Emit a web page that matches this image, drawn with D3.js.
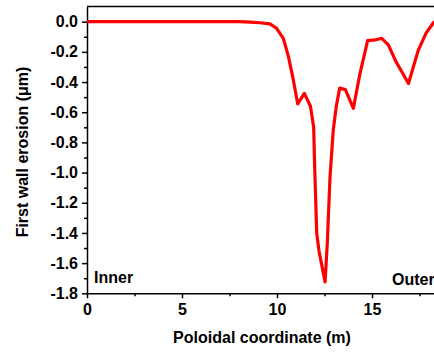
<!DOCTYPE html>
<html>
<head>
<meta charset="utf-8">
<script src="https://cdn.jsdelivr.net/npm/d3@7"></script>
<style>
  html, body { margin: 0; padding: 0; background: #fff; }
  svg { display: block; }
  text { font-family: "Liberation Sans", Arial, sans-serif; font-weight: bold; fill: #000; }
</style>
</head>
<body>
<svg id="chart" width="434" height="352"></svg>
<script>
// Poloidal coordinate along the first wall (m)
const poloidal = [0, 2, 4, 6, 8, 8.6, 9.1, 9.63, 9.98, 10.33, 10.6, 10.86, 11.09, 11.44, 11.76,
  11.93, 11.98, 12.09, 12.21, 12.53, 12.65, 12.79, 12.96, 13.12, 13.3, 13.6, 14.02, 14.37,
  14.77, 15.16, 15.51, 15.86, 16.26, 16.56, 16.92, 17.18, 17.44, 17.84, 18.23, 18.6];
// First wall erosion (µm)
const erosion = [0, 0, 0, 0, 0, -0.003, -0.007, -0.015, -0.044, -0.11, -0.23, -0.386, -0.545, -0.475, -0.56,
  -0.7, -0.95, -1.4, -1.52, -1.725, -1.46, -1.03, -0.72, -0.56, -0.44, -0.45, -0.574, -0.342,
  -0.126, -0.121, -0.11, -0.154, -0.265, -0.33, -0.41, -0.298, -0.188, -0.077, -0.007, 0.03];

const xTicks = [0, 5, 10, 15];
const xMinor = [2.5, 7.5, 12.5, 17.5];
const yTicks = [0.0, -0.2, -0.4, -0.6, -0.8, -1.0, -1.2, -1.4, -1.6, -1.8];
const yMinor = [-0.1, -0.3, -0.5, -0.7, -0.9, -1.1, -1.3, -1.5, -1.7];

(function () {
  const svg = d3.select("#chart");
  const mLeft = 87, mTop = 6.6, mBottom = 293.3;

  const x = d3.scaleLinear().domain([0, 20]).range([mLeft, mLeft + 19 * 20]);
  const y = d3.scaleLinear().domain([-1.8, 0.1]).range([mBottom, mTop]);

  // frame top edge
  svg.append("line")
    .attr("x1", x(0)).attr("x2", x(20)).attr("y1", y(0.1)).attr("y2", y(0.1))
    .attr("stroke", "#000").attr("stroke-width", 1.5);

  // x axis
  svg.append("g").attr("transform", `translate(0,${mBottom})`)
    .call(d3.axisBottom(x).tickValues(xTicks).tickFormat(d3.format("d")).tickSize(5).tickSizeOuter(0).tickPadding(5));
  svg.append("g").attr("transform", `translate(0,${mBottom})`)
    .call(d3.axisBottom(x).tickValues(xMinor).tickFormat("").tickSize(3).tickSizeOuter(0))
    .call(g => g.select(".domain").remove());

  // y axis
  const gy = svg.append("g").attr("transform", `translate(${mLeft},0)`)
    .call(d3.axisLeft(y).tickValues(yTicks).tickSize(5).tickSizeOuter(0).tickPadding(4));
  svg.append("g").attr("transform", `translate(${mLeft},0)`)
    .call(d3.axisLeft(y).tickValues(yMinor).tickFormat("").tickSize(3).tickSizeOuter(0))
    .call(g => g.select(".domain").remove());

  svg.selectAll(".domain").attr("stroke", "#000").attr("stroke-width", 1.5);
  svg.selectAll(".tick line").attr("stroke", "#000").attr("stroke-width", 1.5);
  svg.selectAll(".tick text")
    .style("font-family", "'Liberation Sans', Arial, sans-serif")
    .style("font-weight", "bold").style("font-size", "16px").attr("fill", "#000");
  gy.selectAll(".tick text").text(d => d3.format(".1f")(d).replace("\u2212", "-"));

  // erosion profile
  const line = d3.line().x((d, i) => x(poloidal[i])).y(d => y(d));
  svg.append("path")
    .datum(erosion)
    .attr("d", line)
    .attr("fill", "none")
    .attr("stroke", "#ff0000")
    .attr("stroke-width", 3.2)
    .attr("stroke-linejoin", "round");

  // side labels
  svg.append("text").attr("x", 94).attr("y", 283).style("font-size", "16px").text("Inner");
  svg.append("text").attr("x", 392).attr("y", 285).style("font-size", "16px").text("Outer");

  // axis titles
  svg.append("text")
    .attr("x", 262).attr("y", 343).attr("text-anchor", "middle")
    .style("font-size", "16px").text("Poloidal coordinate (m)");
  svg.append("text")
    .attr("transform", "translate(28,152) rotate(-90)").attr("text-anchor", "middle")
    .style("font-size", "16px").text("First wall erosion (μm)");
})();
</script>
</body>
</html>
